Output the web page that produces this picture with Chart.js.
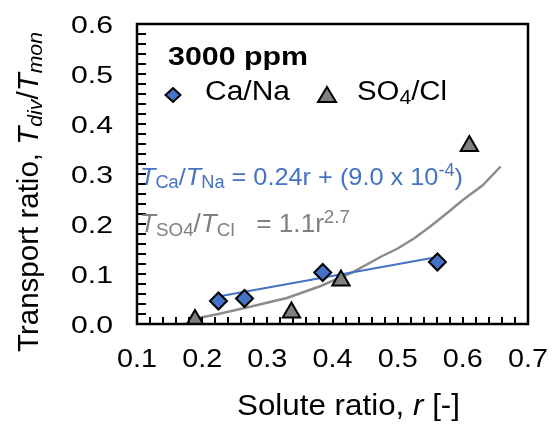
<!DOCTYPE html>
<html>
<head>
<meta charset="utf-8">
<script src="https://cdn.jsdelivr.net/npm/chart.js@4.4.1/dist/chart.umd.min.js"></script>
<style>
  html, body { margin: 0; padding: 0; background: #fff; }
  #wrap { width: 553px; height: 425px; }
</style>
</head>
<body>
<div id="wrap"><canvas id="chart" width="553" height="425"></canvas></div>
<script>
// ---- data ----
const caNaRatio   = [0.225, 0.265, 0.385, 0.561];
const caNaTrans   = [0.046, 0.051, 0.103, 0.124];
const so4ClRatio  = [0.189, 0.337, 0.413, 0.610];
const so4ClTrans  = [0.008, 0.023, 0.087, 0.356];
// linear fit for Ca/Na (drawn line, ends)
const linFitRatio = [0.225, 0.561];
const linFitTrans = [0.055, 0.134];
// power fit for SO4/Cl (curve)
const powFitRatio = [0.19, 0.225, 0.275, 0.33, 0.38, 0.43, 0.475, 0.50, 0.525, 0.55, 0.575, 0.60, 0.63, 0.658];
const powFitTrans = [0.011, 0.020, 0.035, 0.052, 0.075, 0.103, 0.135, 0.151, 0.171, 0.195, 0.221, 0.248, 0.277, 0.315];
const xTickLabels = ['0.1', '0.2', '0.3', '0.4', '0.5', '0.6', '0.7'];
const yTickLabels = ['0.0', '0.1', '0.2', '0.3', '0.4', '0.5', '0.6'];

const BLUE = '#4472C4';
const GREY = '#808080';
const FONT = '"Liberation Sans", Arial, Helvetica, sans-serif';

const pts = (xs, ys) => xs.map((x, i) => ({ x: x, y: ys[i] }));

function fontFor(r, size) {
  const fs = (r.s === 'sub' || r.s === 'sup') ? size * 0.72 : size;
  return (r.i ? 'italic ' : '') + (r.b ? 'bold ' : '') + fs + 'px ' + FONT;
}
function runsWidth(ctx, runs, size) {
  let w = 0;
  for (const r of runs) { ctx.font = fontFor(r, size); w += ctx.measureText(r.t).width; }
  return w;
}
// draw text pieces (italic / sub / sup) at baseline y, stretched to width w if given
function drawRuns(ctx, runs, x, y, size, color, w) {
  const nat = runsWidth(ctx, runs, size);
  const sx = w ? w / nat : 1;
  ctx.save();
  ctx.translate(x, y);
  ctx.scale(sx, 1);
  let cx = 0;
  for (const r of runs) {
    let dy = 0;
    if (r.s === 'sub') dy = size * 0.14;
    if (r.s === 'sup') dy = -size * 0.38;
    ctx.font = fontFor(r, size);
    ctx.fillStyle = r.c || color;
    ctx.fillText(r.t, cx, dy);
    cx += ctx.measureText(r.t).width;
  }
  ctx.restore();
}

const decorations = {
  id: 'decorations',
  afterDraw(chart) {
    const { ctx, chartArea: a } = chart;
    const xs = chart.scales.x, ys = chart.scales.y;
    ctx.save();
    ctx.textBaseline = 'alphabetic';
    ctx.textAlign = 'left';

    // inner tick marks every 0.02
    ctx.fillStyle = '#000';
    for (let i = 0; i <= 30; i++) {
      const px = Math.round(xs.getPixelForValue(0.1 + i * 0.02));
      ctx.fillRect(px - 1, a.bottom - 7, 2, 7);
    }
    for (let i = 0; i <= 30; i++) {
      const py = Math.round(ys.getPixelForValue(i * 0.02));
      ctx.fillRect(a.left, py - 1, 9, 2);
    }

    // plot frame
    ctx.strokeStyle = '#000';
    ctx.lineWidth = 2.5;
    ctx.strokeRect(a.left, a.top, a.right - a.left, a.bottom - a.top);

    // tick labels (stretched to match the wide face of the original)
    xs.ticks.forEach((t, i) => {
      const px = xs.getPixelForValue(t.value);
      drawRuns(ctx, [{ t: xTickLabels[i] }], px - 20, 367, 25, '#000', 40);
    });
    ys.ticks.forEach((t, i) => {
      const py = ys.getPixelForValue(t.value);
      drawRuns(ctx, [{ t: yTickLabels[i] }], 113 - 42, py + 8.7, 24.5, '#000', 42);
    });

    // legend
    drawRuns(ctx, [{ t: '3000 ppm', b: true }], 168, 65, 25.5, '#000', 140);
    ctx.lineWidth = 2;
    ctx.strokeStyle = '#000';
    ctx.fillStyle = BLUE;
    ctx.beginPath();
    ctx.moveTo(173, 88); ctx.lineTo(180.5, 95); ctx.lineTo(173, 102); ctx.lineTo(165.5, 95); ctx.closePath();
    ctx.fill(); ctx.stroke();
    drawRuns(ctx, [{ t: 'Ca/Na' }], 205, 100, 27, '#000', 85);
    ctx.fillStyle = GREY;
    ctx.beginPath();
    ctx.moveTo(327, 87); ctx.lineTo(336, 102); ctx.lineTo(318, 102); ctx.closePath();
    ctx.fill(); ctx.stroke();
    drawRuns(ctx, [{ t: 'SO' }, { t: '4', s: 'sub' }, { t: '/Cl' }], 357, 100, 27, '#000', 90);

    // fit equations
    drawRuns(ctx, [
      { t: 'T', i: true }, { t: 'Ca', s: 'sub' }, { t: '/' },
      { t: 'T', i: true }, { t: 'Na', s: 'sub' },
      { t: ' = 0.24r + (9.0 x 10' }, { t: '-4', s: 'sup' }, { t: ')' }
    ], 140, 185, 24.5, BLUE, 323);
    drawRuns(ctx, [
      { t: 'T', i: true }, { t: 'SO4', s: 'sub' }, { t: '/' },
      { t: 'T', i: true }, { t: 'Cl', s: 'sub' },
      { t: '   = 1.1r' }, { t: '2.7', s: 'sup' }
    ], 140, 232, 25, GREY, 210);

    // x axis title
    drawRuns(ctx, [{ t: 'Solute ratio, ' }, { t: 'r', i: true }, { t: ' [-]' }], 237, 415, 29.5, '#000', 223);

    // y axis title (rotated)
    ctx.translate(38, 352);
    ctx.rotate(-Math.PI / 2);
    drawRuns(ctx, [
      { t: 'Transport ratio, ' }, { t: 'T', i: true }, { t: 'div', i: true, s: 'sub' },
      { t: '/' }, { t: 'T', i: true }, { t: 'mon', i: true, s: 'sub' }
    ], 0, 0, 29, '#000', 320);

    ctx.restore();
  }
};

new Chart(document.getElementById('chart').getContext('2d'), {
  type: 'scatter',
  data: {
    datasets: [
      {
        label: 'Ca/Na fit',
        data: pts(linFitRatio, linFitTrans),
        showLine: true,
        borderColor: BLUE,
        borderWidth: 2,
        pointRadius: 0,
        order: 3
      },
      {
        label: 'SO4/Cl fit',
        data: pts(powFitRatio, powFitTrans),
        showLine: true,
        borderColor: '#8c8c8c',
        borderWidth: 2.5,
        pointRadius: 0,
        tension: 0,
        order: 4
      },
      {
        label: 'Ca/Na',
        data: pts(caNaRatio, caNaTrans),
        pointStyle: 'rectRot',
        pointRadius: 8.5,
        backgroundColor: BLUE,
        borderColor: '#000',
        borderWidth: 2,
        order: 1
      },
      {
        label: 'SO4/Cl',
        data: pts(so4ClRatio, so4ClTrans),
        pointStyle: 'triangle',
        pointRadius: 10,
        backgroundColor: GREY,
        borderColor: '#000',
        borderWidth: 2,
        order: 2
      }
    ]
  },
  options: {
    responsive: false,
    animation: false,
    devicePixelRatio: 1,
    layout: { padding: { top: 24, right: 25, left: 0, bottom: 0 } },
    plugins: {
      legend: { display: false },
      tooltip: { enabled: false }
    },
    scales: {
      x: {
        type: 'linear',
        min: 0.1,
        max: 0.7,
        grid: { display: false, drawTicks: false },
        border: { display: false },
        ticks: { stepSize: 0.1, display: false },
        afterFit: (s) => { s.height = 101; }
      },
      y: {
        type: 'linear',
        min: 0,
        max: 0.6,
        grid: { display: false, drawTicks: false },
        border: { display: false },
        ticks: { stepSize: 0.1, display: false },
        afterFit: (s) => { s.width = 137; }
      }
    }
  },
  plugins: [decorations]
});
</script>
</body>
</html>
